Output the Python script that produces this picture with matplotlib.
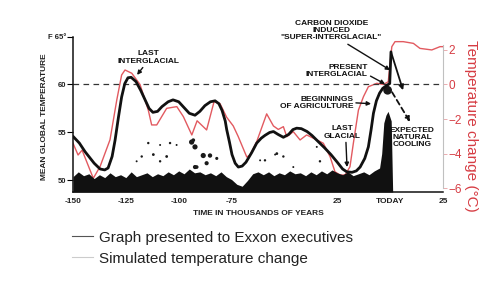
import matplotlib
matplotlib.use('Agg')
import matplotlib.pyplot as plt
from matplotlib.lines import Line2D

plt.rcParams['font.family'] = ['Liberation Sans', 'DejaVu Sans']

# ---- data ----
# Exxon graph: mean global temperature (deg F) vs time (thousands of years)
black_x = [-150, -147, -144.3, -140, -137.2, -135, -133.4, -131.5, -130.1, -128.5,
           -127, -125.5, -124, -122.5, -120.2, -118, -115.9, -114, -112.2, -110,
           -107.9, -105, -102.7, -100, -97.5, -95, -92.3, -90, -87.6, -85,
           -82.8, -81, -79.5, -78, -77.3, -76, -74.8, -73.3, -71.8, -70,
           -68.2, -65.5, -63.1, -61, -59.2, -57, -55.2, -53, -50.5, -48,
           -46, -44.2, -42, -39.3, -37, -34.7, -31, -28, -25, -22.5,
           -20.5, -18, -16, -14.2, -12, -10.3, -9, -7.9, -6.5, -5,
           -3.5, -1.6, -0.2, 0.4]
black_F = [54.6, 53.9, 53.0, 51.8, 51.2, 51.1, 51.3, 52.5, 54.2, 56.6,
           58.7, 60.1, 60.7, 60.75, 60.3, 59.4, 58.4, 57.5, 57.1, 57.2,
           57.7, 58.2, 58.4, 58.2, 57.6, 57.0, 56.8, 57.2, 57.8, 58.2,
           58.3, 58.0, 57.3, 56.2, 55.3, 54.0, 52.7, 51.8, 51.4, 51.5,
           51.9, 52.9, 53.9, 54.4, 54.7, 55.0, 55.1, 54.8, 54.5, 54.8,
           55.3, 55.45, 55.4, 55.1, 54.7, 54.2, 53.4, 52.7, 51.9, 51.2,
           50.9, 50.85, 51.0, 51.4, 52.3, 53.5, 55.3, 57.0, 58.3, 59.1,
           59.6, 59.9, 60.1, 63.4]

# Simulated temperature change (deg C)
red_x = [-150.0, -147.6, -145.7, -140.4, -137.2, -132.5, -129.3, -127.0, -125.4, -122.2,
         -118.3, -114.4, -112.8, -110.4, -105.7, -100.9, -97.8, -93.8, -91.3, -86.8,
         -83.3, -80.5, -77.3, -74.2, -71.9, -67.8, -66.3, -63.1, -58.4, -55.2,
         -52.9, -50.5, -48.9, -45.8, -42.6, -39.5, -36.3, -31.6, -28.4, -26.1,
         -23.7, -21.3, -19.0, -17.4, -15.0, -12.6, -10.3, -6.3, -3.2, -0.9,
         0.8, 2.3, 6.2, 11.0, 14.1, 19.7, 23.6, 25.0]
red_C = [-3.4, -4.08, -3.8, -5.43, -4.75, -3.2, -0.9, 0.55, 0.84, 0.65,
         0.0, -1.48, -2.34, -2.34, -1.38, -1.28, -1.86, -2.92, -2.1, -2.63,
         -1.0, -1.1, -1.9, -2.4, -3.0, -4.2, -4.08, -3.3, -1.7, -2.4,
         -2.6, -2.44, -3.02, -2.73, -3.21, -2.92, -3.11, -3.4, -4.18, -5.05,
         -5.24, -5.24, -4.76, -3.4, -1.48, -0.7, -0.13, 0.07, 0.0, 0.16,
         2.19, 2.48, 2.48, 2.38, 2.09, 2.0, 2.19, 2.19]

# Scan noise: dark band at the bottom of the original graph (top edge, deg F)
band_x = [-150, -147.5, -145, -142.5, -140, -137.5, -135, -132.5, -130, -127.5,
          -125, -122.5, -120, -117.5, -115, -112.5, -110, -107.5, -105, -102.5,
          -100, -97.5, -95, -92.5, -90, -87.5, -85, -82.5, -80, -77.5,
          -75, -72.5, -70, -67.5, -65, -62.5, -60, -57.5, -55, -52.5,
          -50, -47.5, -45, -42.5, -40, -37.5, -35, -32.5, -30, -27.5,
          -25, -22.5, -20, -17.5, -15, -12.5, -10, -7.5, -5,
          -4, -3, -2, -1, 0.5, 1.2]
band_top = [50.4, 50.9, 50.5, 50.7, 50.2, 50.6, 50.3, 50.8, 50.4, 50.6,
            50.3, 50.9, 50.4, 50.6, 50.8, 50.4, 50.7, 50.5, 50.9, 50.6,
            51.0, 50.7, 51.2, 50.8, 50.9, 50.6, 50.8, 50.5, 50.9, 50.4,
            50.1, 49.6, 49.4, 50.0, 50.7, 50.9, 50.6, 50.9, 50.5, 50.8,
            50.6, 51.0, 50.7, 50.8, 50.5, 50.9, 50.6, 51.0, 50.7, 51.1,
            50.8, 50.6, 50.9, 50.5, 50.7, 50.9, 50.6, 51.0, 51.3,
            52.8, 56.0, 56.8, 57.2, 56.2, 48.8]

# Scan speckles
speck_x = [-117.5, -119.9, -114.4, -112.0, -108.8, -108.8, -105.7, -104.1, -101.0, -93.9,
           -92.3, -93.1, -91.5, -92.3, -88.4, -86.8, -85.2, -82.0, -61.5, -59.2,
           -54.4, -53.6, -50.5, -45.8, -34.7, -33.2, -1.2]
speck_F = [52.5, 52.0, 53.9, 52.7, 53.7, 52.0, 52.5, 53.9, 53.7, 54.0,
           53.5, 54.2, 51.4, 51.4, 52.6, 51.8, 52.6, 52.3, 52.1, 52.1,
           52.7, 52.8, 52.5, 51.4, 53.5, 52.0, 59.4]
speck_s = [3, 2, 3, 4, 2, 3, 4, 3, 2, 14,
           14, 7, 7, 9, 14, 9, 10, 5, 2, 3,
           2, 4, 3, 2, 2, 3, 40]

x_ticks = [-150, -125, -100, -75, -25, 0, 25]
x_labels = ['-150', '-125', '-100', '-75', '25', 'TODAY', '25']
yF_ticks = [50, 55, 60, 65]
yF_labels = ['50', '55', '60', 'F 65°']
yC_ticks = [-6, -4, -2, 0, 2]

F_MIN, F_MAX = 48.8, 65.0
BLACK = '#111111'
RED_LINE = '#e25a60'
RED_TEXT = '#d63c43'

fig = plt.figure(figsize=(5, 2.81), dpi=100)
fig.patch.set_facecolor('white')
ax = fig.add_axes([0.146, 0.3167, 0.74, 0.5534])
ax2 = ax.twinx()
ax.set_zorder(ax2.get_zorder() + 1)
ax.patch.set_visible(False)

# red series on the Celsius axis
ax2.plot(red_x, red_C, color=RED_LINE, lw=1.0, zorder=3)
ax2.set_ylim((F_MIN - 60) / 1.8, (F_MAX - 60) / 1.8)
ax2.set_yticks(yC_ticks)
ax2.tick_params(axis='y', direction='out', length=3, width=0.6, color='#e8a0a3',
                labelcolor=RED_TEXT, labelsize=8.5, pad=1)
for s in ['top', 'left', 'bottom']:
    ax2.spines[s].set_visible(False)
ax2.spines['right'].set_color('#c0c0c0')
ax2.spines['right'].set_linewidth(0.8)
ax2.spines['right'].set_bounds(-6, 2.3)
ax2.set_ylabel('Temperature change (°C)', rotation=270, color=RED_TEXT,
               fontsize=11, va='center', ha='center')
ax2.yaxis.set_label_coords(1.075, 0.425)

# scanned graph
ax.fill_between(band_x, F_MIN, band_top, color=BLACK, lw=0, zorder=2)
ax.scatter(speck_x, speck_F, s=speck_s, color='#1a1a1a', marker='o', lw=0, zorder=2)
ax.axhline(60, color='#333333', lw=0.9, ls=(0, (4.5, 3.5)), zorder=1)
ax.plot(black_x, black_F, color=BLACK, lw=2.0, solid_joinstyle='round',
        solid_capstyle='round', zorder=4)

ax.set_xlim(-150, 25)
ax.set_ylim(F_MIN, F_MAX)
ax.set_xticks(x_ticks)
ax.set_xticklabels(x_labels, fontsize=6, fontweight='bold')
ax.set_yticks(yF_ticks)
ax.set_yticklabels(yF_labels, fontsize=5.5, fontweight='bold')
ax.tick_params(axis='x', length=0, pad=4, labelcolor='#222')
ax.tick_params(axis='y', direction='out', length=4, width=0.8, pad=1, labelcolor='#222')
ax.spines['top'].set_visible(False)
ax.spines['right'].set_visible(False)
ax.spines['left'].set_linewidth(1.1)
ax.spines['bottom'].set_linewidth(1.1)
ax.spines['left'].set_color(BLACK)
ax.spines['bottom'].set_color(BLACK)

ax.set_xlabel('TIME IN THOUSANDS OF YEARS', fontsize=6, fontweight='bold',
              color='#222', va='center')
ax.xaxis.set_label_coords(0.5, -0.135)
ax.set_ylabel('MEAN GLOBAL TEMPERATURE', fontsize=6, fontweight='bold',
              color='#222', va='center', ha='center')
ax.yaxis.set_label_coords(-0.0757, 0.482)

ann = dict(fontsize=6, fontweight='bold', color=BLACK, linespacing=1.05,
           annotation_clip=False)
arrow = dict(arrowstyle='-|>', color=BLACK, lw=1.0, mutation_scale=6,
             shrinkA=0, shrinkB=0)

ax.annotate('LAST\nINTERGLACIAL', xy=(-119.7, 61.0), xytext=(-114.5, 62.8),
            ha='center', va='center', arrowprops=dict(arrow, relpos=(0.45, 0.0)), **ann)
ax.annotate('CARBON DIOXIDE\nINDUCED\n"SUPER-INTERGLACIAL"', xy=(0.0, 61.5),
            xytext=(-27.9, 65.6), ha='center', va='center',
            arrowprops=dict(arrow, relpos=(0.62, 0.0)), **ann)
ax.annotate('PRESENT\nINTERGLACIAL', xy=(-2.4, 60.05), xytext=(-10.6, 61.4),
            ha='right', va='center', arrowprops=dict(arrow, relpos=(1.0, 0.25)), **ann)
ax.annotate('BEGINNINGS\nOF AGRICULTURE', xy=(-9.0, 58.0), xytext=(-17.5, 58.1),
            ha='right', va='center', arrowprops=dict(arrow, relpos=(1.0, 0.5)), **ann)
ax.annotate('LAST\nGLACIAL', xy=(-20.4, 51.4), xytext=(-22.7, 55.0),
            ha='center', va='center', arrowprops=dict(arrow, relpos=(0.6, 0.0)), **ann)
ax.text(10.4, 54.5, 'EXPECTED\nNATURAL\nCOOLING', ha='center', va='center',
        fontsize=6, fontweight='bold', color=BLACK, linespacing=1.05, zorder=1)

# projected paths after today
ax.annotate('', xy=(6.1, 59.4), xytext=(0.4, 63.4),
            arrowprops=dict(arrowstyle='-|>', color=BLACK, lw=1.3, mutation_scale=7,
                            shrinkA=0, shrinkB=0), annotation_clip=False)
ax.annotate('', xy=(9.4, 56.1), xytext=(0.9, 59.2),
            arrowprops=dict(arrowstyle='-|>', color=BLACK, lw=1.3, ls=(0, (3, 2)),
                            mutation_scale=7, shrinkA=0, shrinkB=0),
            annotation_clip=False)

# legend below the chart
fig.add_artist(Line2D([72 / 500, 93 / 500], [1 - 235.7 / 281] * 2,
                      transform=fig.transFigure, color='#555555', lw=0.8))
fig.add_artist(Line2D([72 / 500, 93 / 500], [1 - 257.3 / 281] * 2,
                      transform=fig.transFigure, color='#cccccc', lw=0.8))
fig.text(99 / 500, 1 - 242 / 281, 'Graph presented to Exxon executives',
         fontsize=11, color='#222222', va='baseline', ha='left')
fig.text(99 / 500, 1 - 263.3 / 281, 'Simulated temperature change',
         fontsize=11, color='#222222', va='baseline', ha='left')

fig.savefig('out.png', dpi=100, facecolor='white')
